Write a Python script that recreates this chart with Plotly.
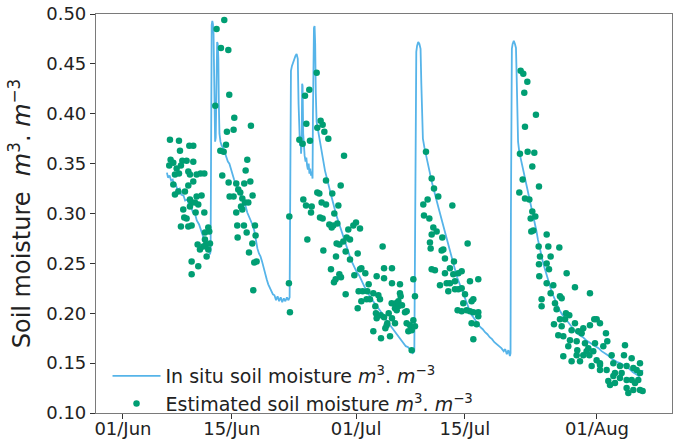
import pandas as pd
import plotly.graph_objects as go

# ---- data (days since 01 Jun, volumetric soil moisture) ----
base_date = "2019-06-01"

insitu_days = [
    5.66, 5.8, 6.0, 6.2, 6.4, 6.6, 6.8, 7.0, 7.3, 7.5, 7.8, 8.0, 8.3, 8.5, 8.8, 9.0, 9.3, 9.5, 9.8,
    10.0, 10.2, 10.4, 10.6, 10.8, 11.0, 11.2, 11.28,
    11.33, 11.36, 11.42, 11.5, 11.58, 11.66, 11.72, 11.78, 11.86, 11.94, 12.0, 12.05, 12.12, 12.2,
    12.28, 12.34, 12.42, 12.55, 12.7, 12.9, 13.1, 13.3, 13.5, 13.7, 13.9, 14.1, 14.3, 14.5, 14.8,
    15.0, 15.3, 15.5, 15.8, 16.0, 16.3, 16.6, 16.9, 17.1, 17.3, 17.5, 17.7, 17.9, 18.1, 18.3, 18.5,
    18.7, 18.9, 19.1, 19.3, 19.5, 19.7, 19.9, 20.1, 20.3, 20.5, 20.7, 20.9, 21.1, 21.3, 21.45,
    21.5, 21.55, 21.62, 21.75, 21.9, 22.05, 22.2, 22.35, 22.5, 22.6, 22.68, 22.78, 22.86, 22.92,
    23.0, 23.06, 23.12, 23.2, 23.28, 23.38, 23.5, 23.6, 23.7, 23.8, 23.9, 24.0, 24.1, 24.2, 24.3,
    24.4, 24.45, 24.5, 24.58, 24.66, 24.74, 24.82, 24.92, 25.05, 25.2, 25.35, 25.5, 25.65, 25.8,
    26.0, 26.2, 26.4, 26.6, 26.8, 27.0, 27.2, 27.4, 27.6, 27.8, 28.0, 28.2, 28.4, 28.6, 28.8, 29.0,
    29.2, 29.5, 29.8, 30.1, 30.4, 30.7, 31.0, 31.3, 31.6, 31.9, 32.2, 32.5, 32.8, 33.1, 33.4, 33.7,
    34.0, 34.3, 34.6, 34.9, 35.2, 35.5, 35.8, 36.1, 36.4, 36.7, 37.0, 37.3, 37.5,
    37.6, 37.66, 37.75, 37.85, 38.0, 38.15, 38.3, 38.4, 38.48, 38.6, 38.8, 39.0, 39.2, 39.4, 39.6,
    39.8, 40.0, 40.2, 40.4, 40.6, 40.8, 41.0, 41.2, 41.4, 41.6, 41.8, 42.0, 42.2, 42.4, 42.6, 42.8,
    43.0, 43.3, 43.6, 43.9, 44.2, 44.5, 44.8, 45.1, 45.4, 45.7, 46.0, 46.3, 46.6, 46.9, 47.2, 47.5,
    47.8, 48.1, 48.4, 48.7, 49.0, 49.2, 49.4, 49.6, 49.8, 49.88,
    49.93, 49.98, 50.05, 50.15, 50.3, 50.45, 50.58, 50.66, 50.74, 50.85, 51.0, 51.2, 51.4, 51.6,
    51.8, 52.0, 52.2, 52.4, 52.6, 52.8, 53.0, 53.2, 53.4, 53.6, 53.8, 54.0, 54.2, 54.4, 54.6, 54.8,
    55.0, 55.3, 55.6, 55.9, 56.2, 56.5, 56.8, 57.1, 57.4, 57.7, 58.0, 58.4, 58.8, 59.2, 59.6, 60.0,
    60.4, 60.8, 61.2, 61.6, 62.0, 62.4, 62.8, 63.2, 63.6, 64.0, 64.4, 64.8, 65.2, 65.6, 66.0, 66.4,
    66.7, 66.9,
]
insitu_vals = [
    0.341, 0.336, 0.338, 0.333, 0.334, 0.328, 0.329, 0.324, 0.325, 0.319, 0.318, 0.313, 0.314, 0.308,
    0.306, 0.301, 0.299, 0.293, 0.289, 0.284, 0.279, 0.275, 0.272, 0.266, 0.264, 0.259, 0.262,
    0.400, 0.470, 0.489, 0.493, 0.490, 0.480, 0.430, 0.390, 0.372, 0.376, 0.430, 0.465, 0.472, 0.470,
    0.455, 0.410, 0.380, 0.372, 0.368, 0.366, 0.361, 0.358, 0.352, 0.350, 0.344, 0.338, 0.334, 0.330,
    0.326, 0.321, 0.317, 0.311, 0.307, 0.301, 0.296, 0.290, 0.283, 0.272, 0.265, 0.260, 0.257, 0.252,
    0.245, 0.238, 0.234, 0.229, 0.226, 0.222, 0.219, 0.218, 0.213, 0.217, 0.212, 0.216, 0.211, 0.215,
    0.212, 0.216, 0.213, 0.216,
    0.300, 0.420, 0.443, 0.448, 0.452, 0.455, 0.458, 0.460, 0.455, 0.410, 0.372, 0.368, 0.378, 0.360,
    0.370, 0.430, 0.428, 0.380, 0.362, 0.358, 0.352, 0.356, 0.348, 0.344, 0.350, 0.340, 0.345, 0.338,
    0.342, 0.335, 0.400, 0.470, 0.486, 0.488, 0.470, 0.420, 0.392, 0.386, 0.380, 0.372, 0.365, 0.358,
    0.352, 0.343, 0.336, 0.330, 0.324, 0.318, 0.312, 0.305, 0.300, 0.295, 0.290, 0.285, 0.280, 0.275,
    0.270, 0.266, 0.261, 0.257, 0.251, 0.246, 0.241, 0.238, 0.232, 0.228, 0.223, 0.219, 0.215, 0.212,
    0.209, 0.206, 0.203, 0.199, 0.196, 0.192, 0.189, 0.186, 0.182, 0.179, 0.176, 0.173, 0.170, 0.167,
    0.166, 0.163, 0.160, 0.162,
    0.300, 0.440, 0.462, 0.468, 0.472, 0.470, 0.465, 0.430, 0.390, 0.375, 0.366, 0.358, 0.351, 0.344,
    0.337, 0.330, 0.323, 0.317, 0.312, 0.306, 0.300, 0.294, 0.288, 0.282, 0.276, 0.270, 0.265, 0.260,
    0.254, 0.248, 0.241, 0.236, 0.230, 0.224, 0.218, 0.212, 0.206, 0.199, 0.196, 0.192, 0.189, 0.186,
    0.184, 0.181, 0.179, 0.176, 0.174, 0.171, 0.169, 0.167, 0.165, 0.162, 0.164, 0.159, 0.163, 0.157,
    0.160,
    0.300, 0.440, 0.465, 0.470, 0.473, 0.470, 0.466, 0.440, 0.390, 0.372, 0.362, 0.355, 0.345, 0.338,
    0.331, 0.326, 0.320, 0.313, 0.306, 0.299, 0.292, 0.283, 0.274, 0.266, 0.259, 0.253, 0.247, 0.241,
    0.236, 0.231, 0.226, 0.219, 0.213, 0.208, 0.203, 0.199, 0.196, 0.192, 0.189, 0.186, 0.183, 0.180,
    0.178, 0.176, 0.173, 0.171, 0.169, 0.167, 0.165, 0.162, 0.160, 0.158, 0.155, 0.153, 0.151, 0.150,
    0.148, 0.146, 0.144, 0.141, 0.139, 0.137, 0.140, 0.143,
]

est_days = [
    # cluster 1
    6.05, 7.21, 8.54, 9.05, 7.34, 6.13, 5.96, 6.48, 6.91, 7.64, 8.19, 9.05, 6.69, 7.21, 7.46, 8.41,
    8.62, 9.48, 9.99, 10.47, 6.48, 7.12, 6.69, 8.41, 9.05, 7.98, 8.62, 9.48, 10.12, 8.84, 9.27, 9.69,
    7.76, 8.62, 9.35, 10.47, 7.89, 8.19, 7.46, 8.41, 8.84, 10.98, 11.11, 10.55, 9.61, 10.55, 10.68,
    10.34, 11.2, 10.98, 9.91, 10.77, 8.84, 9.69, 8.84,
    # cluster 2
    13.04, 12.05, 12.61, 13.56, 13.68, 11.88, 14.33, 13.38, 14.24, 16.47, 13.26, 12.53, 12.96, 16.0,
    15.79, 12.78, 13.6, 16.39, 14.58, 15.61, 14.84, 15.1, 13.73, 14.24, 16.69, 15.36, 15.7, 15.19,
    16.13, 14.58, 15.36, 16.99, 14.71, 15.57, 14.76, 15.92, 17.07, 16.65, 16.22, 16.9, 17.2, 16.77,
    21.41, 21.36, 21.49,
    # cluster 3
    24.93, 23.98, 23.43, 23.6, 25.44, 25.7, 25.01, 25.92, 26.43, 22.7, 23.13, 24.07, 28.45, 26.13,
    28.02, 25.01, 25.27, 26.94, 23.21, 23.56, 25.57, 26.13, 27.72, 24.29, 24.2, 27.2, 25.36, 25.7,
    26.56, 27.07, 27.59, 29.99, 29.65, 30.51, 29.0, 26.86, 23.73, 27.5, 28.36, 28.79, 29.22, 27.85,
    33.42, 25.79, 28.66, 30.21, 27.42, 29.22, 30.68, 30.51, 26.77, 27.85, 28.06, 27.37, 27.16, 29.78,
    31.19, 32.65, 33.6, 34.62, 33.6, 34.62, 35.65, 37.37, 31.62, 30.33, 30.85, 31.45, 32.22, 32.87,
    28.66, 30.68, 31.36, 31.79, 33.08, 34.58, 35.14, 35.44, 35.74, 35.65, 37.58, 32.48, 32.56, 33.17,
    33.6, 34.2, 35.01, 35.23, 35.44, 35.91, 36.3, 36.51, 30.21, 32.65, 34.02, 34.62, 33.77, 33.94,
    35.01, 36.51, 36.94, 37.16, 37.37, 37.58, 32.22, 33.21, 34.37, 36.73, 37.16,
    # cluster 4
    39.0, 39.73, 40.03, 40.58, 38.65, 39.21, 42.39, 38.74, 39.43, 39.94, 40.37, 39.73, 41.1, 39.51,
    39.6, 41.01, 41.23, 44.36, 41.44, 42.6, 42.08, 39.73, 40.15, 43.16, 43.59, 41.44, 42.51, 41.66,
    42.08, 42.73, 40.8, 43.16, 44.66, 45.73, 41.87, 42.73, 43.59, 44.02, 45.09, 44.87, 43.8, 43.07,
    43.59, 44.23, 44.66, 45.09, 45.73, 45.73, 44.87, 45.52, 45.09,
    # cluster 5
    51.18, 51.52, 52.04, 51.65, 53.15, 51.74, 51.09, 52.08, 52.94, 52.68, 51.44, 53.54, 51.01, 51.74,
    52.3, 52.68, 52.47, 53.07, 52.81, 52.55, 54.53, 53.5, 54.74, 56.16, 53.67, 55.04, 53.54, 54.53,
    54.83, 53.58, 57.1, 54.53, 55.38, 55.04, 58.17, 60.1, 56.24, 55.6, 56.46, 53.88, 53.88, 55.81,
    57.01, 57.44, 56.89, 55.47, 56.46, 58.17, 59.24, 60.1, 60.96, 61.39, 60.66, 62.16, 56.67, 57.53,
    59.03, 58.39, 57.31, 58.47, 59.46, 59.67, 60.75, 61.82, 62.33, 56.67, 57.74, 58.82, 60.02, 60.53,
    60.96, 61.39, 62.89, 64.61, 64.48, 65.47, 63.11, 63.96, 64.82, 65.68, 61.39, 62.25, 63.32, 64.18,
    62.46, 63.32, 64.82, 65.47, 65.9, 66.54, 66.32, 66.54, 64.82, 65.68, 66.88, 65.04, 62.68, 66.11,
    66.54, 63.96, 63.11, 61.39, 60.32, 59.24, 58.39, 59.89, 57.74, 56.24, 56.02, 58.6,
]
est_vals = [
    # cluster 1
    0.374, 0.373, 0.368, 0.368, 0.363, 0.354, 0.348, 0.351, 0.345, 0.353, 0.353, 0.352, 0.339, 0.340,
    0.348, 0.342, 0.339, 0.339, 0.340, 0.340, 0.329, 0.322, 0.319, 0.328, 0.332, 0.322, 0.314, 0.317,
    0.318, 0.311, 0.311, 0.309, 0.304, 0.307, 0.301, 0.301, 0.296, 0.295, 0.287, 0.287, 0.288, 0.286,
    0.282, 0.281, 0.269, 0.274, 0.269, 0.267, 0.270, 0.264, 0.264, 0.257, 0.252, 0.247, 0.239,
    # cluster 2
    0.494, 0.485, 0.466, 0.464, 0.419, 0.408, 0.396, 0.382, 0.384, 0.388, 0.369, 0.363, 0.362, 0.354,
    0.343, 0.338, 0.331, 0.332, 0.330, 0.330, 0.324, 0.321, 0.317, 0.317, 0.318, 0.315, 0.311, 0.307,
    0.311, 0.301, 0.304, 0.288, 0.288, 0.288, 0.276, 0.281, 0.278, 0.270, 0.261, 0.251, 0.252, 0.223,
    0.297, 0.230, 0.201,
    # cluster 3
    0.441, 0.424, 0.418, 0.390, 0.393, 0.389, 0.386, 0.382, 0.375, 0.374, 0.370, 0.373, 0.358, 0.333,
    0.328, 0.321, 0.320, 0.320, 0.314, 0.308, 0.311, 0.309, 0.308, 0.307, 0.301, 0.300, 0.296, 0.295,
    0.289, 0.288, 0.290, 0.291, 0.288, 0.285, 0.284, 0.286, 0.274, 0.270, 0.272, 0.276, 0.274, 0.269,
    0.267, 0.263, 0.262, 0.260, 0.257, 0.254, 0.245, 0.244, 0.244, 0.239, 0.236, 0.234, 0.231, 0.238,
    0.240, 0.237, 0.245, 0.245, 0.235, 0.230, 0.229, 0.234, 0.229, 0.222, 0.222, 0.222, 0.220, 0.218,
    0.219, 0.212, 0.214, 0.214, 0.214, 0.210, 0.210, 0.212, 0.217, 0.220, 0.217, 0.207, 0.200, 0.198,
    0.196, 0.200, 0.205, 0.203, 0.207, 0.208, 0.201, 0.202, 0.205, 0.195, 0.190, 0.195, 0.185, 0.188,
    0.190, 0.190, 0.188, 0.183, 0.193, 0.187, 0.182, 0.175, 0.177, 0.182, 0.163,
    # cluster 4
    0.362, 0.335, 0.325, 0.317, 0.309, 0.314, 0.308, 0.298, 0.295, 0.286, 0.282, 0.279, 0.276, 0.271,
    0.265, 0.263, 0.264, 0.270, 0.255, 0.252, 0.245, 0.244, 0.243, 0.240, 0.242, 0.240, 0.239, 0.230,
    0.230, 0.232, 0.228, 0.224, 0.232, 0.234, 0.222, 0.224, 0.225, 0.219, 0.214, 0.212, 0.210, 0.203,
    0.202, 0.203, 0.202, 0.201, 0.201, 0.197, 0.190, 0.189, 0.174,
    # cluster 5
    0.443, 0.440, 0.432, 0.421, 0.399, 0.387, 0.360, 0.362, 0.361, 0.347, 0.334, 0.327, 0.321, 0.315,
    0.314, 0.302, 0.295, 0.297, 0.283, 0.282, 0.279, 0.267, 0.267, 0.266, 0.257, 0.257, 0.249, 0.250,
    0.244, 0.237, 0.240, 0.230, 0.228, 0.220, 0.226, 0.220, 0.217, 0.210, 0.215, 0.214, 0.207, 0.204,
    0.200, 0.198, 0.194, 0.189, 0.187, 0.190, 0.185, 0.188, 0.194, 0.190, 0.194, 0.180, 0.177, 0.173,
    0.180, 0.172, 0.167, 0.163, 0.170, 0.162, 0.170, 0.167, 0.172, 0.157, 0.152, 0.152, 0.158, 0.162,
    0.153, 0.150, 0.158, 0.168, 0.158, 0.155, 0.150, 0.147, 0.147, 0.145, 0.143, 0.143, 0.140, 0.140,
    0.132, 0.130, 0.133, 0.133, 0.130, 0.140, 0.133, 0.123, 0.125, 0.123, 0.122, 0.120, 0.128, 0.143,
    0.150, 0.135, 0.137, 0.148, 0.147, 0.158, 0.158, 0.165, 0.183, 0.194, 0.178, 0.182,
]

tick_dates = ["2019-06-01", "2019-06-15", "2019-07-01", "2019-07-15", "2019-08-01"]
tick_labels = ["01/Jun", "15/Jun", "01/Jul", "15/Jul", "01/Aug"]
x_range = ["2019-05-28 12:45", "2019-08-10 15:50"]
y_range = [0.10, 0.50]
y_ticks = [0.10, 0.15, 0.20, 0.25, 0.30, 0.35, 0.40, 0.45, 0.50]

# ---- build ----
t0 = pd.Timestamp(base_date)
insitu_x = t0 + pd.to_timedelta(insitu_days, unit="D")
est_x = t0 + pd.to_timedelta(est_days, unit="D")

unit_html = "<i>m</i><sup>3</sup>. <i>m</i><sup>\u22123</sup>"
FONT = "DejaVu Sans"

fig = go.Figure()
fig.add_trace(go.Scatter(
    x=insitu_x, y=insitu_vals, mode="lines",
    line=dict(color="#56B4E9", width=1.8),
    name="In situ soil moisture " + unit_html, legendgroup="a",
))
fig.add_trace(go.Scatter(
    x=est_x, y=est_vals, mode="markers",
    marker=dict(color="#009E73", size=6.5, line=dict(width=0)),
    name="Estimated soil moisture " + unit_html, legendgroup="b",
))

axis_common = dict(
    showgrid=False, zeroline=False, showline=True, linecolor="#7a7a7a", linewidth=1.2,
    mirror=True, ticks="outside", ticklen=5, tickcolor="#333", tickwidth=1,
    tickfont=dict(family=FONT, size=18, color="#222"), automargin=False,
)

fig.update_layout(
    width=678, height=443,
    margin=dict(l=96, r=6, t=14, b=30, autoexpand=False),
    paper_bgcolor="white", plot_bgcolor="white",
    font=dict(family=FONT, color="#222"),
    showlegend=True,
    legend=dict(
        x=0.02, y=-0.025, xanchor="left", yanchor="bottom", itemwidth=48,
        bgcolor="rgba(255,255,255,0)", font=dict(family=FONT, size=19, color="#222"),
        traceorder="grouped", tracegroupgap=0,
    ),
    xaxis=dict(
        range=x_range, type="date", ticklabelstandoff=-6,
        tickvals=tick_dates, ticktext=tick_labels, **axis_common,
    ),
    yaxis=dict(
        range=y_range, tickvals=y_ticks, tickformat=".2f",
        title=dict(text="Soil moisture  " + unit_html, font=dict(family=FONT, size=24, color="#222"), standoff=8),
        **axis_common,
    ),
)

fig.write_html("out.html")
